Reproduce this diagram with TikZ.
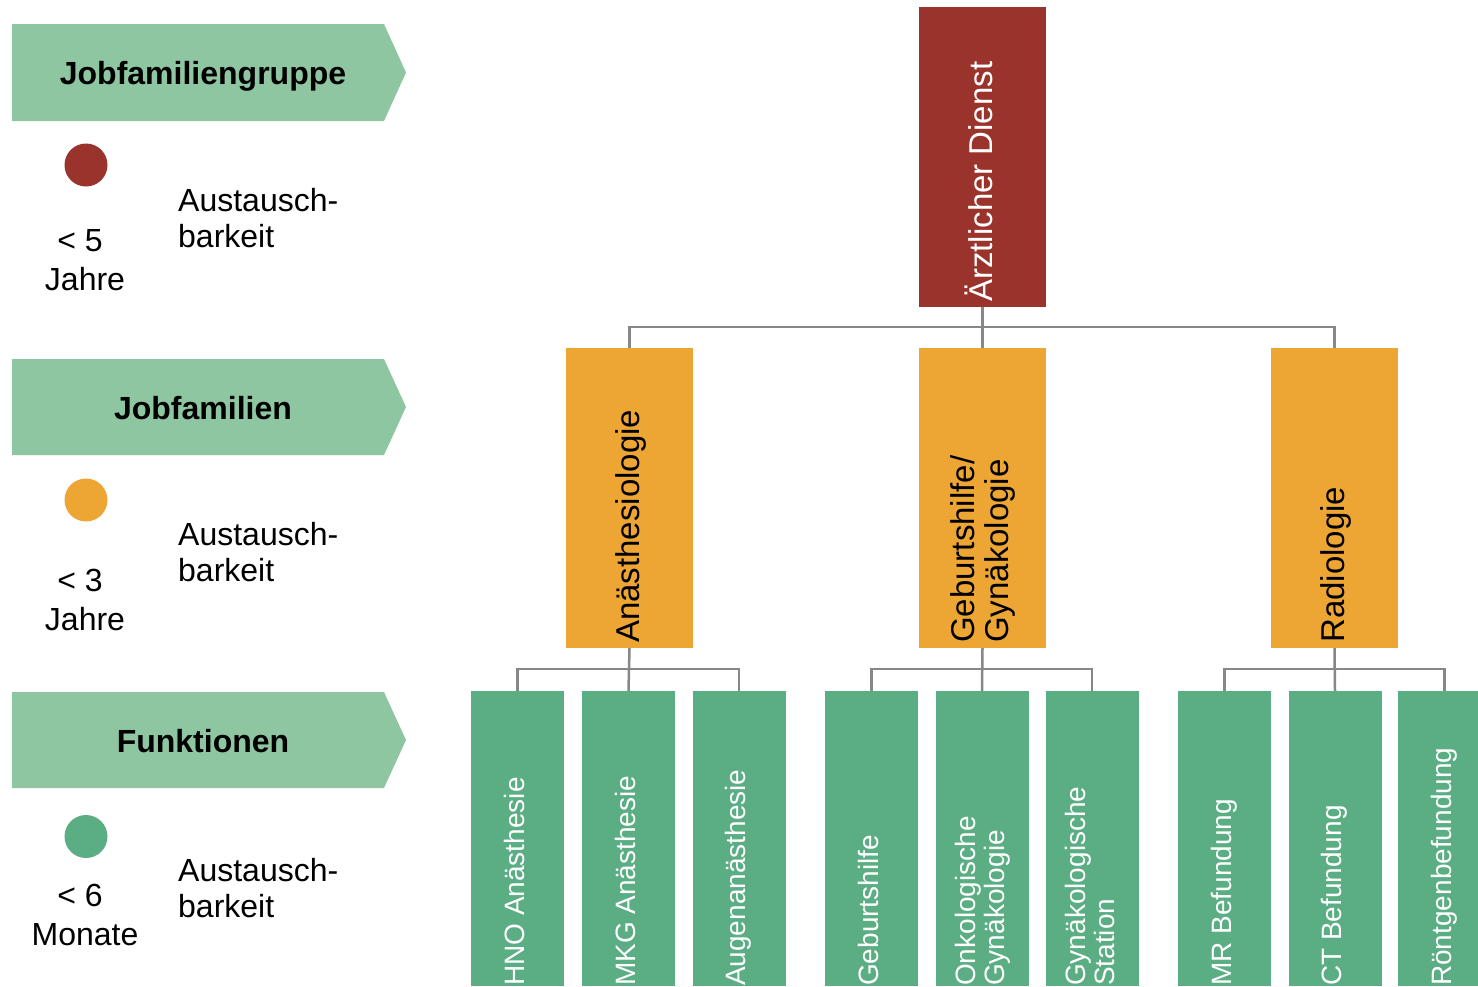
\documentclass[tikz,border=0pt]{standalone}
\usepackage{fontspec}
\setmainfont{Liberation Sans}
\definecolor{rootred}{RGB}{154,51,43}
\definecolor{famorange}{RGB}{237,166,51}
\definecolor{fungreen}{RGB}{91,174,131}
\definecolor{bannergreen}{RGB}{142,198,161}
\definecolor{conngrey}{RGB}{135,135,135}
\begin{document}
\begin{tikzpicture}[x=1pt,y=-1pt,
  box/.style={draw=none,inner sep=0,minimum width=127pt,minimum height=300pt},
  rootbox/.style={box,fill=rootred},
  fambox/.style={box,fill=famorange},
  funbox/.style={inner sep=0,minimum width=93pt,minimum height=295pt,fill=fungreen},
  vtext/.style={rotate=90,anchor=base west,inner sep=0,font=\fontsize{33}{35}\selectfont},
  ftext/.style={rotate=90,anchor=base west,inner sep=0,font=\fontsize{28}{30}\selectfont,text=white},
  conn/.style={draw=conngrey,line width=2.5pt},
  legtext/.style={inner sep=0,font=\fontsize{32}{38}\selectfont},
  bannertext/.style={inner sep=0,anchor=base,font=\bfseries\fontsize{32}{38}\selectfont},
  banner/.style={fill=bannergreen},
  dot/.style={circle,inner sep=0,minimum size=43pt}
  ]
\clip (0,0) rectangle (1478,986);
\fill[white] (0,0) rectangle (1478,986);

% ---------- legend ----------
\path[banner] (12,24) -- (384,24) -- (406,72.5) -- (384,121) -- (12,121) -- cycle;
\path[banner] (12,359) -- (384,359) -- (406,407) -- (384,455) -- (12,455) -- cycle;
\path[banner] (12,692) -- (384,692) -- (406,740) -- (384,788) -- (12,788) -- cycle;
\node[bannertext] (b1) at (203,84) {Jobfamiliengruppe};
\node[bannertext] (b2) at (203,419) {Jobfamilien};
\node[bannertext] (b3) at (203,752) {Funktionen};

\node[dot,fill=rootred] (c1) at (86,165) {};
\node[dot,fill=famorange] (c2) at (86,500) {};
\node[dot,fill=fungreen] (c3) at (86,836.5) {};

\node[legtext,anchor=base] (l1a) at (80,251) {< 5};
\node[legtext,anchor=base] (l1b) at (85,290) {Jahre};
\node[legtext,anchor=base west] (l1c) at (178,211) {Austausch-};
\node[legtext,anchor=base west] (l1d) at (178,247) {barkeit};

\node[legtext,anchor=base] (l2a) at (80,591) {< 3};
\node[legtext,anchor=base] (l2b) at (85,630) {Jahre};
\node[legtext,anchor=base west] (l2c) at (178,545) {Austausch-};
\node[legtext,anchor=base west] (l2d) at (178,581) {barkeit};

\node[legtext,anchor=base] (l3a) at (80,906) {< 6};
\node[legtext,anchor=base] (l3b) at (85,945) {Monate};
\node[legtext,anchor=base west] (l3c) at (178,881) {Austausch-};
\node[legtext,anchor=base west] (l3d) at (178,917) {barkeit};

% ---------- boxes ----------
\node[rootbox] (root) at (982.5,157) {};
\node[fambox] (o1) at (629.5,498) {};
\node[fambox] (o2) at (982.5,498) {};
\node[fambox] (o3) at (1334.5,498) {};

\node[funbox] (g1) at (517.5,838.5) {};
\node[funbox] (g2) at (628.5,838.5) {};
\node[funbox] (g3) at (739,838.5) {};
\node[funbox] (g4) at (871.5,838.5) {};
\node[funbox] (g5) at (982,838.5) {};
\node[funbox] (g6) at (1092,838.5) {};
\node[funbox] (g7) at (1224.5,838.5) {};
\node[funbox] (g8) at (1335,838.5) {};
\node[funbox] (g9) at (1444.5,838.5) {};

% ---------- connectors ----------
\draw[conn] (root.south) -- (o2.north);
\draw[conn] (o1.north) |- ([yshift=-20pt]root.south) -| (o3.north);

\draw[conn] (o1.south) -- (g2.north);
\draw[conn] (g1.north) |- ([yshift=-21pt]o1.south) -| (g3.north);
\draw[conn] (o2.south) -- (g5.north);
\draw[conn] (g4.north) |- ([yshift=-21pt]o2.south) -| (g6.north);
\draw[conn] (o3.south) -- (g8.north);
\draw[conn] (g7.north) |- ([yshift=-21pt]o3.south) -| (g9.north);

% ---------- texts ----------
\node[vtext,text=white] (troot) at (992,302) {Ärztlicher Dienst};
\node[vtext] (to1) at (639.5,643) {Anästhesiologie};
\node[vtext] (to2a) at (974,643) {Geburtshilfe/};
\node[vtext] (to2b) at (1008,643) {Gynäkologie};
\node[vtext] (to3) at (1344,643) {Radiologie};

\node[ftext] (tg1) at (524,986) {HNO Anästhesie};
\node[ftext] (tg2) at (635,986) {MKG Anästhesie};
\node[ftext] (tg3) at (745.5,986) {Augenanästhesie};
\node[ftext] (tg4) at (878,986) {Geburtshilfe};
\node[ftext] (tg5a) at (975,986) {Onkologische};
\node[ftext] (tg5b) at (1004,986) {Gynäkologie};
\node[ftext] (tg6a) at (1085,986) {Gynäkologische};
\node[ftext] (tg6b) at (1114,986) {Station};
\node[ftext] (tg7) at (1231,986) {MR Befundung};
\node[ftext] (tg8) at (1341.5,986) {CT Befundung};
\node[ftext] (tg9) at (1451,986) {Röntgenbefundung};
\end{tikzpicture}
\end{document}
